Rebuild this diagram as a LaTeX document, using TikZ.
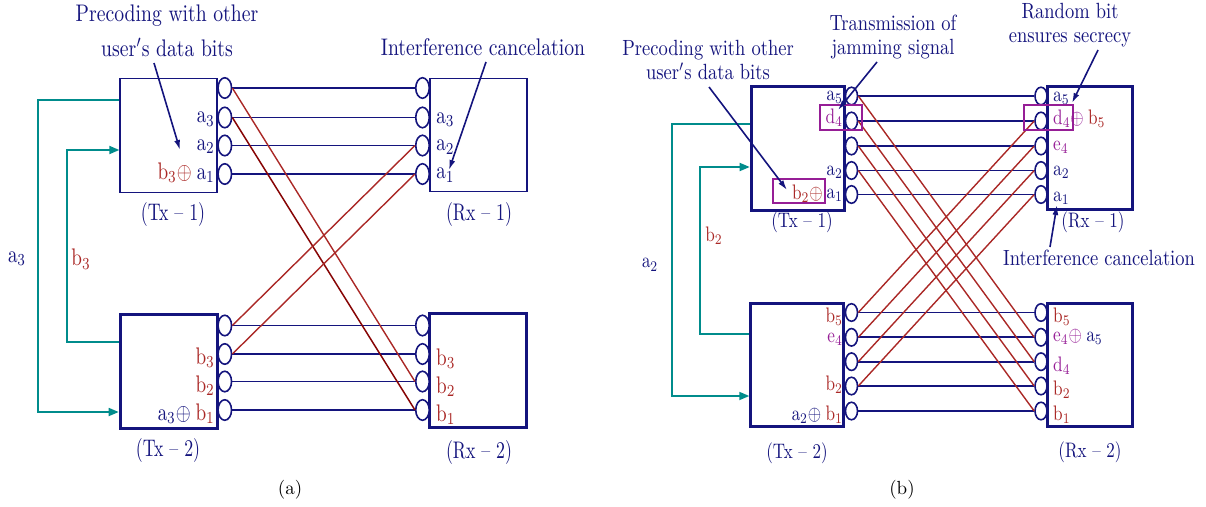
\documentclass[tikz,border=0pt]{standalone}
\usetikzlibrary{arrows.meta,shapes.geometric}
\definecolor{cnavy}{RGB}{20,20,125}
\definecolor{cred}{RGB}{170,40,38}
\definecolor{cdark}{RGB}{135,5,5}
\definecolor{cpurp}{RGB}{150,30,150}
\definecolor{cteal}{RGB}{0,140,140}
\newcommand{\tsc}[3]{\scalebox{#1}[#2]{#3}}
\newcommand{\rmv}[1]{\mathrm{#1}}
\newcommand{\XLA}[1]{\tsc{1.92}{2.4}{#1}}
\newcommand{\XLB}[1]{\tsc{1.72}{2.1}{#1}}
\newcommand{\XAA}[1]{\tsc{1.97}{2.4}{#1}}
\newcommand{\XAB}[1]{\tsc{1.85}{2.2}{#1}}
\newcommand{\XUA}[1]{\tsc{1.78}{2.4}{#1}}
\newcommand{\XUB}[1]{\tsc{1.7}{2.1}{#1}}
\begin{document}
\begin{tikzpicture}[x=1pt,y=-1pt,
  port/.style={ellipse, draw=cnavy, line width=1.6pt, fill=white, inner sep=0pt, minimum width=13.5pt, minimum height=20.5pt},
  portb/.style={port, minimum width=12pt, minimum height=17.5pt},
  boxthin/.style={draw=cnavy, line width=1.7pt, inner sep=0pt},
  boxthick/.style={draw=cnavy, line width=3pt, inner sep=0pt},
  lnk/.style={draw=cnavy, line width=1.8pt},
  crossln/.style={draw=cred, line width=1.4pt},
  crossdk/.style={draw=cdark, line width=1.5pt},
  feedarr/.style={draw=cteal, line width=1.7pt, -{Triangle[length=10pt,width=8pt]}},
  note/.style={draw=cnavy, line width=1.6pt, -{Latex[length=10pt,width=6pt]}},
  pbox/.style={draw=cpurp, line width=1.5pt},
  lab/.style={font=\fontsize{10}{12}\selectfont, text=cnavy, inner sep=0pt},
  annA/.style={font=\fontsize{10}{35}\selectfont, text=cnavy, align=center, inner sep=0pt},
  annB/.style={font=\fontsize{10}{24}\selectfont, text=cnavy, align=center, inner sep=0pt},
  subcap/.style={font=\fontsize{10}{12}\selectfont, text=black, inner sep=0pt}]
\useasboundingbox (0,0) rectangle (1206,506);

% ================= (a) =================
\node[boxthin, minimum width=97pt, minimum height=114pt] (TA1) at (168.7,135.5) {};
\node[boxthin, minimum width=97pt, minimum height=113pt] (RA1) at (478.3,135) {};
\node[boxthick, minimum width=97pt, minimum height=114pt] (TA2) at (168.7,371.2) {};
\node[boxthick, minimum width=97pt, minimum height=114pt] (RA2) at (478.3,370.8) {};

% feedback lines
\coordinate (fa1) at (38,100);
\coordinate (fa2) at (38,412);
\coordinate (fb1) at (67,342);
\coordinate (fb2) at (67,150);
\draw[feedarr] (TA1.west |- fa1) -- (fa1) -- (fa2) -- (TA2.west |- fa2);
\draw[feedarr] (TA2.west |- fb1) -- (fb1) -- (fb2) -- (TA1.west |- fb2);
\node[lab] (fla) at (17,259) {\XLA{$\rmv{a}_3$}};
\node[lab, text=cred] (flb) at (81,259) {\XLA{$\rmv{b}_3$}};

% ports
\foreach \i/\y in {1/88,2/117.5,3/145.5,4/174}{
  \node[port] (ta1-\i) at (224.8,\y) {};
  \node[port] (ra1-\i) at (422.5,\y) {};
}
\foreach \i/\y in {1/325.5,2/354,3/381.5,4/410}{
  \node[port] (ta2-\i) at (224.8,\y) {};
  \node[port] (ra2-\i) at (422.5,\y) {};
}
\foreach \i in {1,2,3,4}{
  \draw[lnk] (ta1-\i.east) -- (ra1-\i.west);
  \draw[lnk] (ta2-\i.east) -- (ra2-\i.west);
}
\draw[crossln] (ta1-1.east) -- (ra2-3.west);
\draw[crossdk] (ta1-2.east) -- (ra2-4.west);
\draw[crossln] (ta2-1.east) -- (ra1-3.west);
\draw[crossln] (ta2-2.east) -- (ra1-4.west);

% labels (a)
\node[lab, anchor=base east] (lta12) at (215,122.5) {\XLA{$\rmv{a}_3$}};
\node[lab, anchor=base east] (lta13) at (215,150) {\XLA{$\rmv{a}_2$}};
\node[lab, anchor=base east] (lta14) at (215,179) {\XLA{\textcolor{cred}{$\rmv{b}_3{\oplus}$}\hspace{0.25em}$\rmv{a}_1$}};
\node[lab, anchor=base west] (lra12) at (436,123) {\XLA{$\rmv{a}_3$}};
\node[lab, anchor=base west] (lra13) at (436,150.5) {\XLA{$\rmv{a}_2$}};
\node[lab, anchor=base west] (lra14) at (436,178.5) {\XLA{$\rmv{a}_1$}};
\node[lab, text=cred, anchor=base east] (lta22) at (215,364) {\XLA{$\rmv{b}_3$}};
\node[lab, text=cred, anchor=base east] (lta23) at (215,392) {\XLA{$\rmv{b}_2$}};
\node[lab, anchor=base east] (lta24) at (215,420) {\XLA{$\rmv{a}_3{\oplus}$\hspace{0.25em}\textcolor{cred}{$\rmv{b}_1$}}};
\node[lab, text=cred, anchor=base west] (lra22) at (436,365) {\XLA{$\rmv{b}_3$}};
\node[lab, text=cred, anchor=base west] (lra23) at (436,393) {\XLA{$\rmv{b}_2$}};
\node[lab, text=cred, anchor=base west] (lra24) at (436,421) {\XLA{$\rmv{b}_1$}};

\node[lab] (uTA1) at (173,214) {\XUA{(Tx -- 1)}};
\node[lab] (uRA1) at (479,214) {\XUA{(Rx -- 1)}};
\node[lab] (uTA2) at (168,450) {\XUA{(Tx -- 2)}};
\node[lab] (uRA2) at (479,452) {\XUA{(Rx -- 2)}};

\node[annA] (pA) at (167,31) {\XAA{Precoding with other}\\\XAA{user$'$s data bits}};
\node[annA] (iA) at (483,47) {\XAA{Interference cancelation}};
\coordinate (pAs) at (154,63);
\coordinate (pAe) at (180,150);
\coordinate (iAs) at (486,62);
\coordinate (iAe) at (449,170);
\draw[note] (pAs) -- (pAe);
\draw[note] (iAs) -- (iAe);

\node[subcap] (sa) at (290,490) {\tsc{1.9}{1.9}{(a)}};

% ================= (b) =================
\node[boxthick, minimum width=93pt, minimum height=124pt] (TB1) at (797.7,148.3) {};
\node[boxthick, minimum width=85pt, minimum height=123pt] (RB1) at (1090,148.3) {};
\node[boxthick, minimum width=93pt, minimum height=123pt] (TB2) at (797.3,365) {};
\node[boxthick, minimum width=85pt, minimum height=123pt] (RB2) at (1090.2,365) {};

\coordinate (ga1) at (672,124);
\coordinate (ga2) at (672,396);
\coordinate (gb1) at (700,334);
\coordinate (gb2) at (700,167);
\draw[feedarr] (TB1.west |- ga1) -- (ga1) -- (ga2) -- (TB2.west |- ga2);
\draw[feedarr] (TB2.west |- gb1) -- (gb1) -- (gb2) -- (TB1.west |- gb2);
\node[lab] (gla) at (650,265) {\XLB{$\rmv{a}_2$}};
\node[lab, text=cred] (glb) at (714,236) {\XLB{$\rmv{b}_2$}};

\foreach \i/\y in {1/96,2/121,3/146,4/170.5,5/194.5}{
  \node[portb] (tb1-\i) at (851.5,\y) {};
  \node[portb] (rb1-\i) at (1041,\y) {};
}
\foreach \i/\y in {1/312.5,2/337.3,3/361.7,4/386,5/411}{
  \node[portb] (tb2-\i) at (851.5,\y) {};
  \node[portb] (rb2-\i) at (1041,\y) {};
}
\foreach \i in {1,...,5}{
  \draw[lnk] (tb1-\i.east) -- (rb1-\i.west);
  \draw[lnk] (tb2-\i.east) -- (rb2-\i.west);
}
\foreach \i/\j in {1/2,2/3,3/4,4/5}{
  \draw[crossln] (tb1-\i.east) -- (rb2-\j.west);
  \draw[crossln] (tb2-\i.east) -- (rb1-\j.west);
}

% labels (b)
\node[lab, anchor=base east] (ltb11) at (843,100) {\XLB{$\rmv{a}_5$}};
\node[lab, text=cpurp, anchor=base east] (ltb12) at (843,123.3) {\XLB{$\rmv{d}_4$}};
\node[lab, anchor=base east] (ltb14) at (843,175) {\XLB{$\rmv{a}_2$}};
\node[lab, anchor=base east] (ltb15) at (843,198.3) {\XLB{$\rmv{a}_1$}};
\node[lab, text=cred, anchor=base east] (ltb15b) at (823,199) {\XLB{$\rmv{b}_2{\oplus}$}};
\node[lab, text=cred, anchor=base east] (ltb21) at (843,322) {\XLB{$\rmv{b}_5$}};
\node[lab, text=cpurp, anchor=base east] (ltb22) at (843,342) {\XLB{$\rmv{e}_4$}};
\node[lab, text=cred, anchor=base east] (ltb24) at (843,390) {\XLB{$\rmv{b}_2$}};
\node[lab, anchor=base east] (ltb25) at (843,420) {\XLB{$\rmv{a}_2{\oplus}$\hspace{0.25em}\textcolor{cred}{$\rmv{b}_1$}}};

\node[lab, anchor=base west] (lrb11) at (1053,101.7) {\XLB{$\rmv{a}_5$}};
\node[lab, text=cpurp, anchor=base west] (lrb12) at (1053,124) {\XLB{$\rmv{d}_4{\oplus}$\hspace{0.25em}\textcolor{cred}{$\rmv{b}_5$}}};
\node[lab, text=cpurp, anchor=base west] (lrb13) at (1053,150.7) {\XLB{$\rmv{e}_4$}};
\node[lab, anchor=base west] (lrb14) at (1053,175.7) {\XLB{$\rmv{a}_2$}};
\node[lab, anchor=base west] (lrb15) at (1053,201.5) {\XLB{$\rmv{a}_1$}};
\node[lab, text=cred, anchor=base west] (lrb21) at (1053,322) {\XLB{$\rmv{b}_5$}};
\node[lab, text=cpurp, anchor=base west] (lrb22) at (1053,341) {\XLB{$\rmv{e}_4{\oplus}$\hspace{0.25em}\textcolor{cnavy}{$\rmv{a}_5$}}};
\node[lab, text=cpurp, anchor=base west] (lrb23) at (1053,371.7) {\XLB{$\rmv{d}_4$}};
\node[lab, text=cred, anchor=base west] (lrb24) at (1053,395) {\XLB{$\rmv{b}_2$}};
\node[lab, text=cred, anchor=base west] (lrb25) at (1053,420) {\XLB{$\rmv{b}_1$}};

% purple highlight boxes
\draw[pbox] (820,105) rectangle (862,130);
\draw[pbox] (1024,105) rectangle (1073,130);
\draw[pbox] (773,179) rectangle (825,203);

\node[lab] (uTB1) at (802,222) {\XUB{(Tx -- 1)}};
\node[lab] (uRB1) at (1093,222) {\XUB{(Rx -- 1)}};
\node[lab] (uTB2) at (797,453) {\XUB{(Tx -- 2)}};
\node[lab] (uRB2) at (1090,452) {\XUB{(Rx -- 2)}};

\node[annB] (pB) at (708,60) {\XAB{Precoding with other}\\\XAB{user$'$s data bits}};
\node[annB] (tB) at (893,37) {\XAB{Transmission of}\\\XAB{jamming signal}};
\node[annB] (rB) at (1070,25) {\XAB{Random bit}\\\XAB{ensures secrecy}};
\node[annB] (iB) at (1099,258) {\XAB{Interference cancelation}};
\coordinate (pBs) at (709,87);
\coordinate (pBe) at (787,190);
\coordinate (tBs) at (877,62);
\coordinate (tBe) at (838,110);
\coordinate (rBs) at (1098,50);
\coordinate (rBe) at (1072,103);
\coordinate (iBs) at (1050,247);
\coordinate (iBe) at (1057,205);
\draw[note] (pBs) -- (pBe);
\draw[note] (tBs) -- (tBe);
\draw[note] (rBs) -- (rBe);
\draw[note] (iBs) -- (iBe);

\node[subcap] (sb) at (902,490) {\tsc{1.9}{1.9}{(b)}};
\end{tikzpicture}
\end{document}
